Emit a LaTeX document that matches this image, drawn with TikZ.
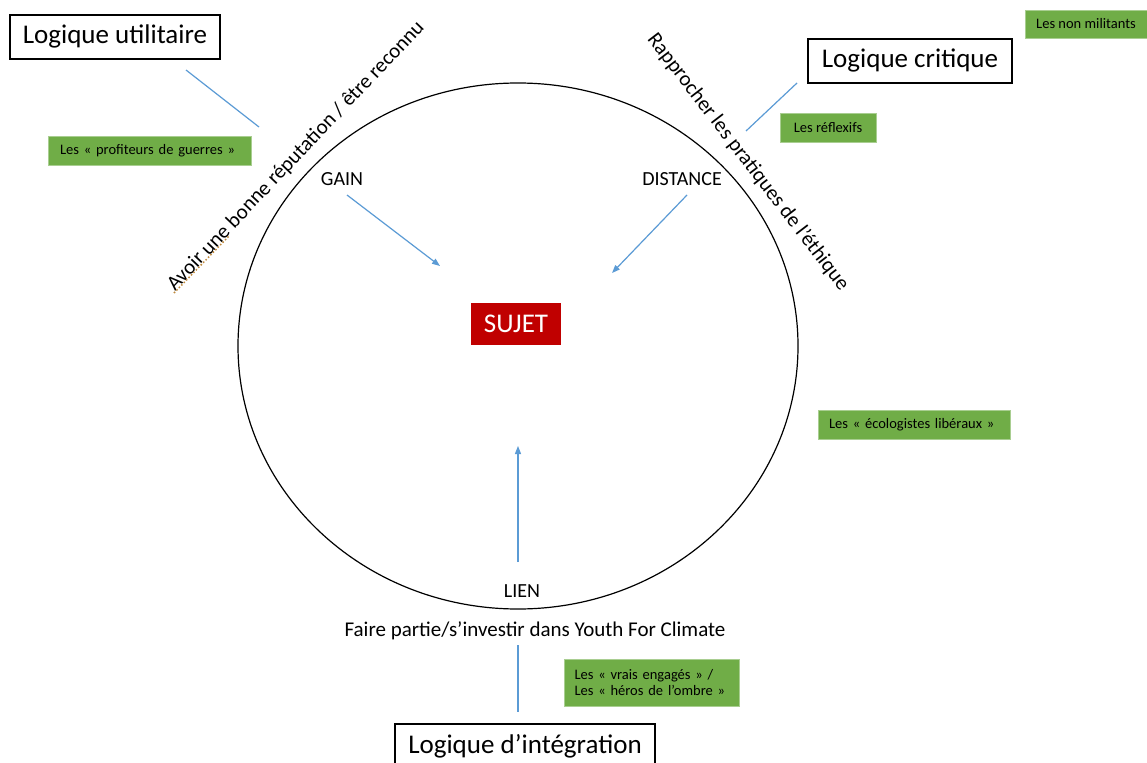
\documentclass[tikz,border=0pt]{standalone}
\usepackage{fontspec}
\setmainfont{Carlito}
\usetikzlibrary{arrows.meta,shapes.geometric}
\definecolor{myblue}{HTML}{5B9BD5}
\definecolor{mygreen}{HTML}{70AD47}
\definecolor{myred}{HTML}{C00000}
\definecolor{squiggle}{HTML}{C08A3E}
\begin{document}
\begin{tikzpicture}[x=1pt,y=-1pt,
  logic/.style={draw=black,line width=1.2pt,fill=white,font=\fontsize{27}{30}\selectfont,inner sep=0pt,minimum height=44,text height=20,text depth=6},
  grp/.style={fill=mygreen,draw=mygreen!60!white,line width=0.8pt,font=\fontsize{14.5}{16}\selectfont,inner sep=0pt,align=left},
  lbl/.style={font=\fontsize{20}{22}\selectfont,inner sep=1pt},
  conn/.style={draw=myblue,line width=1.2pt},
  arr/.style={conn,-{Triangle[length=8pt,width=6pt]}}]
\useasboundingbox (0,0) rectangle (1147,762);
\fill[white] (0,0) rectangle (1147,762);
% circle
\node[draw=black,line width=1.2pt,ellipse,minimum width=560,minimum height=526,inner sep=0pt] (circ) at (518,346) {};
% logic boxes
\node[logic,minimum width=210] (lu) at (115,37) {Logique utilitaire};
\node[logic,minimum width=204] (lc) at (910,61) {Logique critique};
\node[logic,minimum width=260] (li) at (525,746) {Logique d’intégration};
% green boxes
\node[grp,minimum width=122,minimum height=28] (g1) at (1086,24) {Les non militants};
\node[grp,minimum width=96,minimum height=29] (g2) at (828,128) {Les réflexifs};
\node[grp,minimum width=203,minimum height=29,text width=180] (g3) at (150,151) {Les « profiteurs de guerres »};
\node[grp,minimum width=192,minimum height=29,text width=170] (g4) at (914,425) {Les « écologistes libéraux »};
\node[grp,minimum width=175,minimum height=47,text width=155] (g5) at (652,683) {\fontsize{14.5}{18}\selectfont Les « vrais engagés » /\\Les « héros de l’ombre »};
% subject
\node[fill=myred,text=white,font=\fontsize{27}{30}\selectfont,minimum width=90,minimum height=42,inner sep=0pt] (suj) at (516,324) {SUJET};
% labels
\node[lbl] (gain) at (342,179) {GAIN};
\node[lbl] (dist) at (682,179) {DISTANCE};
\node[lbl] (lien) at (522,591) {LIEN};
\node[font=\fontsize{21}{24}\selectfont,inner sep=1pt] (faire) at (535,631) {Faire partie/s’investir dans Youth For Climate};
% rotated texts
\node[font=\fontsize{21}{24}\selectfont,rotate=46.5,inner sep=0pt] (avoir) at (296,156) {Avoir une bonne réputation / être reconnu};
\node[font=\fontsize{21}{24}\selectfont,rotate=-52.5,inner sep=0pt] (rapp) at (748,162) {Rapprocher les pratiques de l’éthique};
% connector end points
\coordinate (gs) at (347,195);
\coordinate (ga) at (440,266);
\coordinate (ds) at (687,195);
\coordinate (da) at (612,273);
\coordinate (ls) at (518,562);
\coordinate (la) at (518,446);
\coordinate (lu1) at (186,70);
\coordinate (lu2) at (259,127);
\coordinate (lc1) at (797,83);
\coordinate (lc2) at (746,131);
\coordinate (f1) at (518,645);
\coordinate (f2) at (518,712);
\coordinate (sq1) at (174,293);
\coordinate (sq2) at (229,236);
\draw[squiggle,line width=1.5pt,dotted] (sq1) -- (sq2);
\draw[arr] (gs) -- (ga);
\draw[arr] (ds) -- (da);
\draw[arr] (ls) -- (la);
\draw[conn] (lu1) -- (lu2);
\draw[conn] (lc1) -- (lc2);
\draw[conn] (f1) -- (f2);
\end{tikzpicture}
\end{document}
